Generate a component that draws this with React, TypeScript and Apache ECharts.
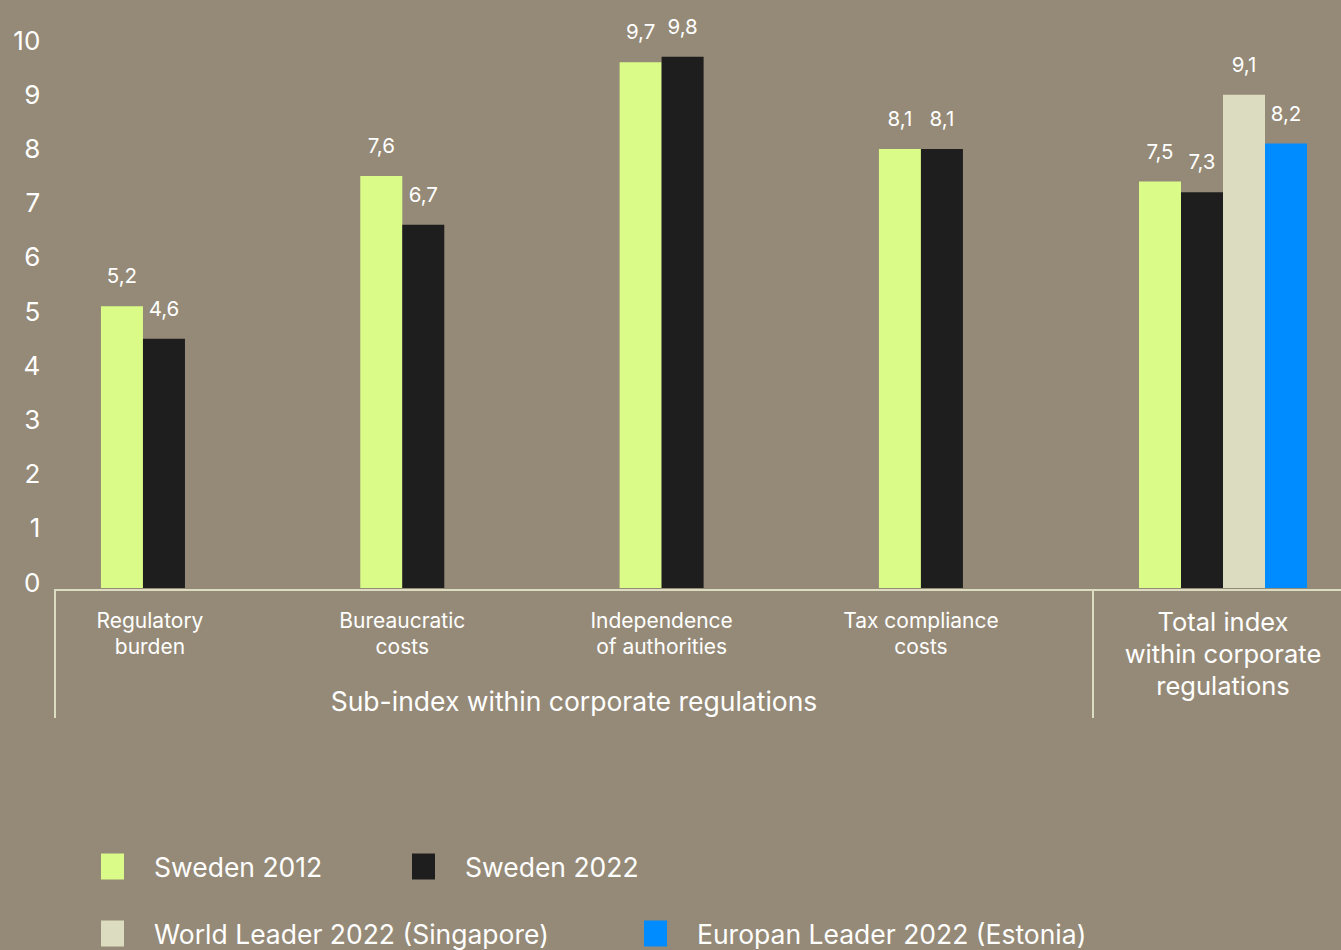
import React, { useEffect, useRef } from "react";
import * as echarts from "echarts";

const subCategories = [
  "Regulatory\nburden",
  "Bureaucratic\ncosts",
  "Independence\nof authorities",
  "Tax compliance\ncosts",
];
const totalCategories = ["Total index\nwithin corporate\nregulations"];
const sweden2012Sub = [5.2, 7.6, 9.7, 8.1];
const sweden2022Sub = [4.6, 6.7, 9.8, 8.1];
const sweden2012Total = [7.5];
const sweden2022Total = [7.3];
const worldLeaderTotal = [9.1];
const europeLeaderTotal = [8.2];
const yTicks = { min: 0, max: 10, interval: 1 };

const seriesNames = [
  "Sweden 2012",
  "Sweden 2022",
  "World Leader 2022 (Singapore)",
  "Europan Leader 2022 (Estonia)",
];
const colors = ["#DAFB88", "#1E1E1E", "#DCDCC0", "#008CFF"];

const BG = "#958A77";
const TEXT = "#FFFFFF";
const LINE = "#DCDCC0";
const FONT = "Inter, 'Noto Sans', sans-serif";

export default function App() {
  const ref = useRef<HTMLDivElement>(null);

  useEffect(() => {
    if (!ref.current) return;
    const chart = echarts.init(ref.current, null, { renderer: "svg" });

    const barLabel = {
      show: true,
      position: "top",
      distance: 20,
      color: TEXT,
      fontSize: 20.5,
      fontFamily: FONT,
      formatter: (p: any) => String(p.value).replace(".", ","),
    };

    const mkBar = (name: string, idx: number, data: number[], axis: number) => ({
      type: "bar",
      name,
      data,
      xAxisIndex: axis,
      yAxisIndex: axis,
      barWidth: 42,
      barGap: "0%",
      itemStyle: { color: colors[idx] },
      label: barLabel,
    });

    const legendPos = [
      { left: 101, top: 853 },
      { left: 412, top: 853 },
      { left: 101, top: 920 },
      { left: 644, top: 920 },
    ];

    const subAxisData = subCategories.map((c, i) =>
      i === 0 ? { value: c, textStyle: { padding: [0, 0, 0, 14] } } : c
    );

    const option: any = {
      animation: false,
      backgroundColor: BG,
      textStyle: { fontFamily: FONT },
      grid: [
        { left: 13.3, top: 46, width: 1037.3, height: 542 },
        { left: 1105, top: 46, width: 236, height: 542 },
      ],
      xAxis: [
        {
          type: "category",
          gridIndex: 0,
          data: subAxisData,
          axisLine: { show: false },
          axisTick: { show: false },
          axisLabel: {
            color: TEXT,
            fontSize: 21,
            lineHeight: 26,
            margin: 19,
            fontFamily: FONT,
            interval: 0,
          },
        },
        {
          type: "category",
          gridIndex: 1,
          data: totalCategories,
          axisLine: { show: false },
          axisTick: { show: false },
          axisLabel: {
            color: TEXT,
            fontSize: 25.5,
            lineHeight: 32,
            margin: 17,
            fontFamily: FONT,
            interval: 0,
          },
        },
      ],
      yAxis: [
        {
          type: "value",
          gridIndex: 0,
          min: yTicks.min,
          max: yTicks.max,
          interval: yTicks.interval,
          offset: -27,
          splitLine: { show: false },
          axisLine: { show: false },
          axisTick: { show: false },
          axisLabel: {
            color: TEXT,
            fontSize: 26,
            margin: 0,
            fontFamily: FONT,
            verticalAlign: "bottom",
            lineHeight: 12,
          },
        },
        {
          type: "value",
          gridIndex: 1,
          min: yTicks.min,
          max: yTicks.max,
          interval: yTicks.interval,
          show: false,
          splitLine: { show: false },
        },
      ],
      legend: seriesNames.map((n, i) => ({
        data: [n],
        left: legendPos[i].left,
        top: legendPos[i].top,
        padding: 0,
        icon: "rect",
        itemWidth: 23,
        itemHeight: 26,
        selectedMode: false,
        textStyle: {
          color: TEXT,
          fontSize: 26.5,
          fontFamily: FONT,
          padding: [0, 0, 0, 25],
        },
      })),
      series: [
        mkBar(seriesNames[0], 0, sweden2012Sub, 0),
        mkBar(seriesNames[1], 1, sweden2022Sub, 0),
        mkBar(seriesNames[0], 0, sweden2012Total, 1),
        mkBar(seriesNames[1], 1, sweden2022Total, 1),
        mkBar(seriesNames[2], 2, worldLeaderTotal, 1),
        mkBar(seriesNames[3], 3, europeLeaderTotal, 1),
      ],
      graphic: [
        {
          type: "line",
          shape: { x1: 54, y1: 590, x2: 1341, y2: 590 },
          style: { stroke: LINE, lineWidth: 2 },
        },
        {
          type: "line",
          shape: { x1: 55, y1: 589, x2: 55, y2: 718 },
          style: { stroke: LINE, lineWidth: 2 },
        },
        {
          type: "line",
          shape: { x1: 1093, y1: 589, x2: 1093, y2: 718 },
          style: { stroke: LINE, lineWidth: 2 },
        },
        {
          type: "text",
          x: 574,
          y: 701,
          style: {
            text: "Sub-index within corporate regulations",
            fill: TEXT,
            fontSize: 26.5,
            fontFamily: FONT,
            align: "center",
            verticalAlign: "middle",
          },
        },
      ],
    };

    chart.setOption(option);
    return () => chart.dispose();
  }, []);

  return (
    <div
      ref={ref}
      style={{
        position: "absolute",
        left: 0,
        top: 0,
        width: 1341,
        height: 950,
        background: BG,
      }}
    />
  );
}
